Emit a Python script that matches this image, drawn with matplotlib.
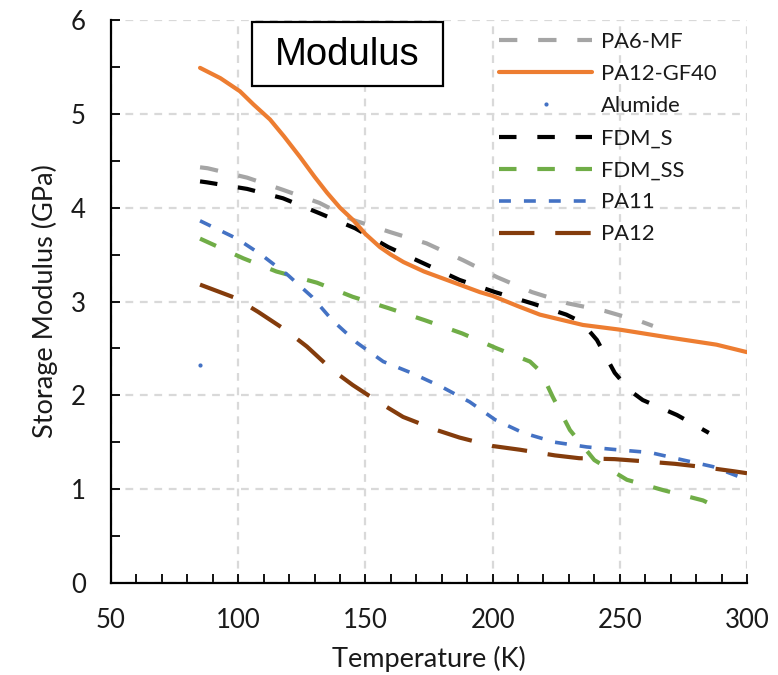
import numpy as np
import matplotlib
matplotlib.use("Agg")
import matplotlib.pyplot as plt
from matplotlib.legend_handler import HandlerLine2D
from matplotlib.patches import Rectangle

# ---- data ----
pa6mf_T = [85, 88, 103.5, 117.6, 132, 145, 159.7, 174, 188.4, 201.7, 215.5, 229.6, 244, 258, 263]
pa6mf_E = [4.43, 4.42, 4.32, 4.19, 4.05, 3.87, 3.74, 3.62, 3.44, 3.26, 3.10, 2.98, 2.90, 2.79, 2.74]

gf40_T = [85, 93, 100.7, 106, 112.5, 118, 124.3, 130, 134.9, 140, 145.1, 150, 155.7, 160, 165, 173, 182, 195, 200, 210, 218.6, 235.5, 250, 268.5, 288, 300]
gf40_E = [5.49, 5.38, 5.24, 5.10, 4.94, 4.76, 4.54, 4.33, 4.16, 4.00, 3.87, 3.72, 3.58, 3.50, 3.42, 3.32, 3.23, 3.10, 3.06, 2.95, 2.86, 2.75, 2.70, 2.62, 2.54, 2.46]

alumide_T = [85]
alumide_E = [2.32]

fdms_T = [85, 87.7, 103.5, 117.6, 132, 146, 159, 172.6, 187, 201, 215.5, 229, 235, 241, 248, 254, 259, 272.5, 285]
fdms_E = [4.28, 4.27, 4.20, 4.10, 3.94, 3.78, 3.58, 3.41, 3.23, 3.10, 2.98, 2.86, 2.78, 2.59, 2.24, 2.05, 1.95, 1.79, 1.60]

fdmss_T = [85, 102, 115, 131, 145, 159, 173.4, 188, 201.7, 214.7, 219, 223.7, 230.4, 240, 252.8, 267, 282.7, 285]
fdmss_E = [3.67, 3.46, 3.32, 3.20, 3.05, 2.93, 2.80, 2.66, 2.50, 2.36, 2.25, 1.98, 1.63, 1.31, 1.10, 0.99, 0.88, 0.85]

pa11_T = [85, 99.5, 109, 119.6, 129, 137, 146.7, 157, 168, 180, 191, 201, 212, 224.5, 237, 249, 262, 275, 286.6, 300]
pa11_E = [3.86, 3.67, 3.50, 3.28, 3.05, 2.80, 2.56, 2.36, 2.24, 2.09, 1.93, 1.74, 1.60, 1.50, 1.45, 1.42, 1.39, 1.31, 1.24, 1.10]

pa12_T = [85, 98.7, 107.8, 118.4, 127, 137, 145, 155.7, 164.8, 178, 187, 200, 210.8, 224.5, 234, 248, 258, 271.7, 281.5, 295, 300]
pa12_E = [3.18, 3.04, 2.89, 2.70, 2.52, 2.27, 2.11, 1.92, 1.77, 1.63, 1.55, 1.46, 1.42, 1.36, 1.33, 1.32, 1.30, 1.27, 1.24, 1.19, 1.17]

labels = ["PA6-MF", "PA12-GF40", "Alumide", "FDM_S", "FDM_SS", "PA11", "PA12"]
x_ticks = [50, 100, 150, 200, 250, 300]
y_ticks = [0, 1, 2, 3, 4, 5, 6]

plt.rcParams['font.family'] = ['Lato', 'DejaVu Sans']

W, H = 778, 675
fig = plt.figure(figsize=(W / 100, H / 100), dpi=100)
ax = fig.add_axes([111 / W, 1 - 583 / H, (747 - 111) / W, (583 - 20) / H])

lw = 3.0
ax.plot(pa6mf_T, pa6mf_E, color='#A5A5A5', lw=lw, dashes=(4.4, 5), dash_capstyle='butt', label=labels[0], zorder=3)
ax.plot(gf40_T, gf40_E, color='#ED7D31', lw=lw, solid_capstyle='round', label=labels[1], zorder=4)
ax.plot(alumide_T, alumide_E, color='#4472C4', lw=0, marker='o', ms=3, mew=0, label=labels[2], zorder=3)
ax.plot(fdms_T, fdms_E, color='black', lw=lw, dashes=(4.2, 5), dash_capstyle='butt', label=labels[3], zorder=3)
ax.plot(fdmss_T, fdmss_E, color='#70AD47', lw=lw, dashes=(4.2, 5), dash_capstyle='butt', label=labels[4], zorder=3)
ax.plot(pa11_T, pa11_E, color='#4472C4', lw=2.6, dashes=(3.3, 3.6), dash_capstyle='butt', label=labels[5], zorder=3)
ax.plot(pa12_T, pa12_E, color='#843C0C', lw=lw, dashes=(8.5, 5), dash_capstyle='butt', label=labels[6], zorder=3)

ax.set_xlim(50, 300)
ax.set_ylim(0, 6)
ax.set_xticks(x_ticks)
ax.set_yticks(y_ticks)
ax.set_xticks(np.arange(50, 301, 10), minor=True)
ax.set_yticks(np.arange(0, 6.01, 0.5), minor=True)
ax.tick_params(which='both', direction='in', length=6.5, width=1.3, colors='black')
ax.tick_params(axis='both', which='major', pad=18, labelsize=18.5, labelcolor='#1a1a1a')
ax.grid(True, which='major', color='#D9D9D9', lw=1.6, dashes=(3.5, 3))
ax.set_axisbelow(True)
for s in ['top', 'right']:
    ax.spines[s].set_visible(False)
for s in ['left', 'bottom']:
    ax.spines[s].set_linewidth(1.6)

ax.set_xlabel("Temperature (K)", fontsize=19.5, labelpad=9, color='#1a1a1a')
ax.set_ylabel("Storage Modulus (GPa)", fontsize=19.5, labelpad=9, color='#1a1a1a')

# title box
fig.patches.append(Rectangle((252 / W, 1 - 86 / H), (443 - 252) / W, (86 - 22) / H,
                             transform=fig.transFigure, fc='white', ec='black', lw=1.6, zorder=5))
fig.text(347.5 / W, 1 - 55 / H, "Modulus", fontsize=27.5, family='Liberation Sans',
         ha='center', va='center', zorder=6)


class LeftMarkerHandler(HandlerLine2D):
    def get_xdata(self, legend, xdescent, ydescent, width, height, fontsize):
        xdata = [-xdescent, -xdescent + width]
        return xdata, [-xdescent + 2]


handles = ax.get_lines()
leg = ax.legend(handles=handles, labels=labels, loc='upper left',
                bbox_to_anchor=(488 / W, 1 - 21 / H), bbox_transform=fig.transFigure,
                frameon=False, fontsize=15.8, handlelength=4.25, handletextpad=0.4,
                labelspacing=0.55, borderpad=0, numpoints=1,
                handler_map={handles[2]: LeftMarkerHandler()})
for t in leg.get_texts():
    t.set_color('#1a1a1a')

fig.savefig("out.png", dpi=100, facecolor='white')
